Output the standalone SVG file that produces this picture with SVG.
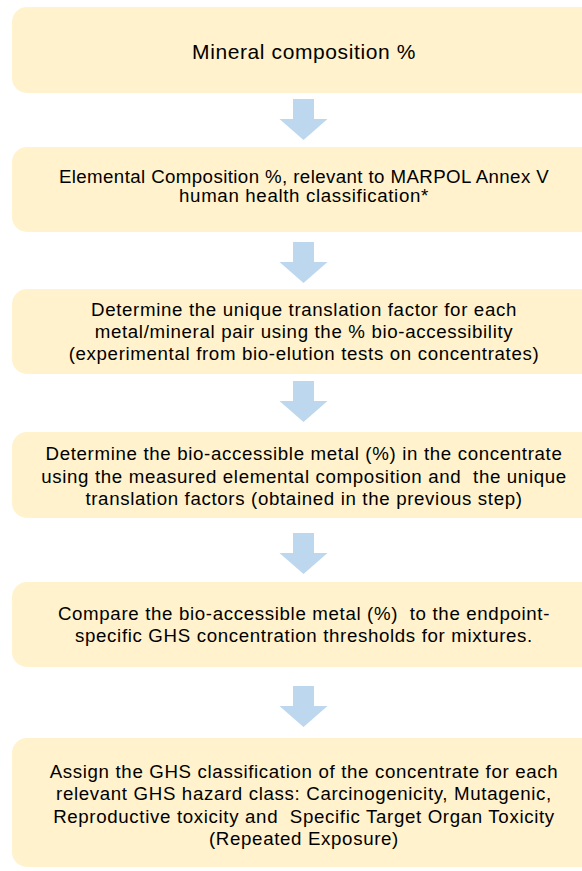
<svg xmlns="http://www.w3.org/2000/svg" width="582" height="871" viewBox="0 0 582 871">
<style>
.box{fill:#FFF2CC;}
.arr{fill:#BDD7EE;}
text{font-family:"Liberation Sans",Arial,sans-serif;fill:#000;text-anchor:middle;white-space:pre;}
.t{font-size:21px;letter-spacing:0.6px;}
.b{font-size:18.7px;letter-spacing:0.65px;}
</style>
<defs>
<path id="down" d="M293,0 H314 V20 H327.5 L303.5,41 L279.5,20 H293 Z"/>
</defs>
<rect width="582" height="871" fill="#fff"/>
<g id="connectors">
<use href="#down" class="arr" y="99"/>
<use href="#down" class="arr" y="242"/>
<use href="#down" class="arr" y="381"/>
<use href="#down" class="arr" y="533"/>
<use href="#down" class="arr" y="686"/>
</g>
<g id="n1">
<rect class="box" x="12" y="7" width="590" height="86" rx="15"/>
<text class="t" x="304" y="58.5">Mineral composition %</text>
</g>
<g id="n2">
<rect class="box" x="12" y="147" width="590" height="85" rx="15"/>
<text class="b" x="304" y="182.5" style="letter-spacing:0.4px">Elemental Composition %, relevant to MARPOL Annex V</text>
<text class="b" x="304" y="201.5">human health classification*</text>
</g>
<g id="n3">
<rect class="box" x="12" y="289" width="590" height="85" rx="15"/>
<text class="b" x="304" y="316">Determine the unique translation factor for each</text>
<text class="b" x="304" y="337.5">metal/mineral pair using the % bio-accessibility</text>
<text class="b" x="304" y="359.5">(experimental from bio-elution tests on concentrates)</text>
</g>
<g id="n4">
<rect class="box" x="12" y="432" width="590" height="86" rx="15"/>
<text class="b" x="304" y="460">Determine the bio-accessible metal (%) in the concentrate</text>
<text class="b" x="304" y="482.5">using the measured elemental composition and  the unique</text>
<text class="b" x="304" y="505">translation factors (obtained in the previous step)</text>
</g>
<g id="n5">
<rect class="box" x="12" y="582" width="590" height="85" rx="15"/>
<text class="b" x="304" y="619.5">Compare the bio-accessible metal (%)  to the endpoint-</text>
<text class="b" x="304" y="641.5">specific GHS concentration thresholds for mixtures.</text>
</g>
<g id="n6">
<rect class="box" x="12" y="738" width="590" height="129" rx="15"/>
<text class="b" x="304" y="777.5">Assign the GHS classification of the concentrate for each</text>
<text class="b" x="304" y="800">relevant GHS hazard class: Carcinogenicity, Mutagenic,</text>
<text class="b" x="304" y="822.5">Reproductive toxicity and  Specific Target Organ Toxicity</text>
<text class="b" x="304" y="845">(Repeated Exposure)</text>
</g>
</svg>
